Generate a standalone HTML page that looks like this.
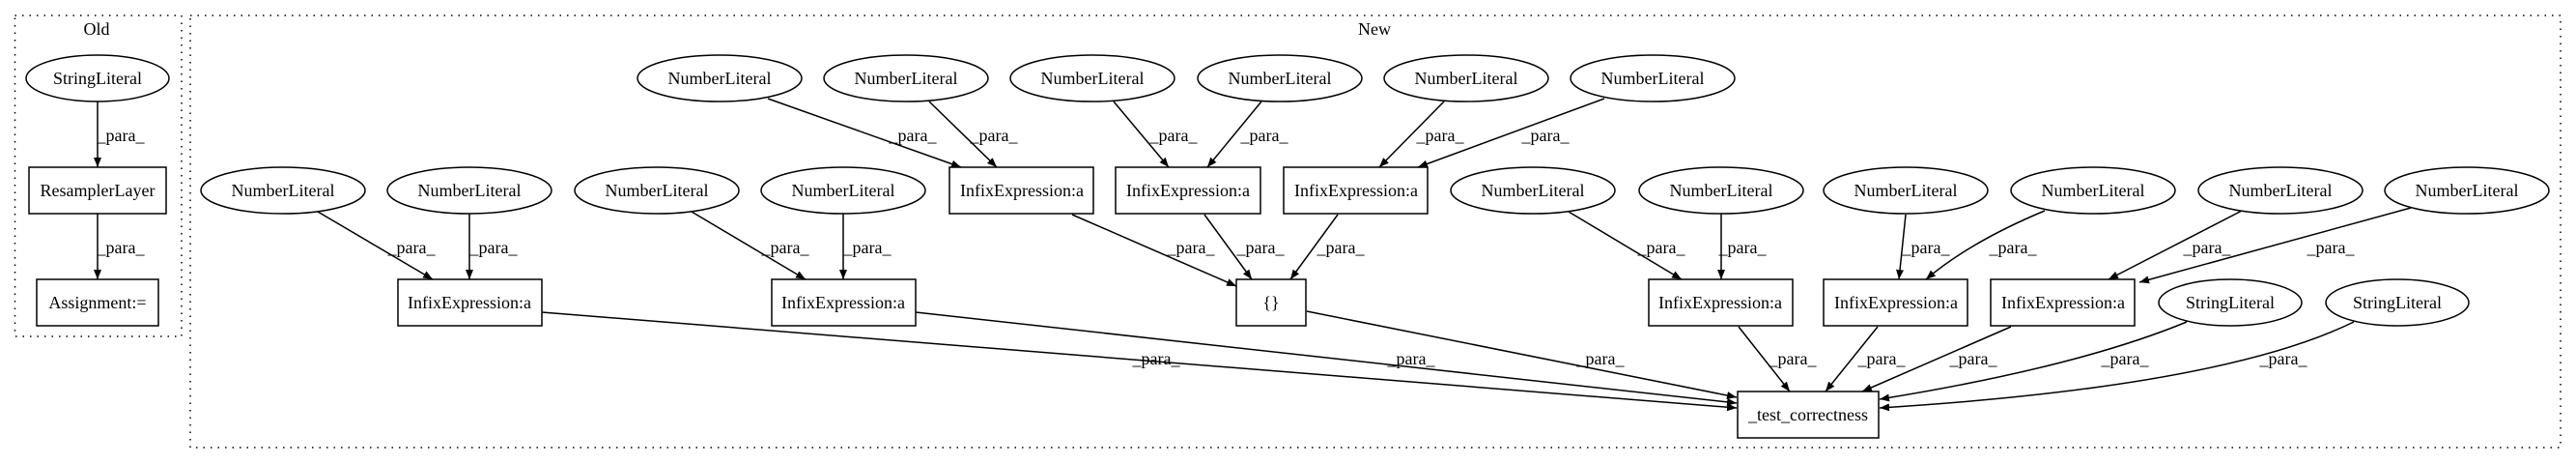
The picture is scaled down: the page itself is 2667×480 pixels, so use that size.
<!DOCTYPE html>
<html><head><meta charset="utf-8"><style>
html,body{margin:0;padding:0;background:#fff;}
svg{display:block;}
text{font-family:"Liberation Serif",serif;font-size:18px;fill:#000;}
</style></head><body>
<svg width="2667" height="480" viewBox="0 0 2667 480" xmlns="http://www.w3.org/2000/svg">
<defs><marker id="a" markerWidth="10" markerHeight="8" refX="10" refY="4" orient="auto" markerUnits="userSpaceOnUse"><path d="M0,0 L10,4 L0,8 z" fill="#000"/></marker></defs>
<g fill="none" stroke="#000" stroke-width="1.5" stroke-dasharray="1.5,6">
<rect x="15.5" y="16" width="172.5" height="332"/>
<rect x="197" y="16" width="2454" height="447"/>
</g>
<g text-anchor="middle">
<text x="100" y="36">Old</text>
<text x="1423" y="36">New</text>
</g>
<g fill="#fff" stroke="#000" stroke-width="1.5">
<ellipse cx="101" cy="81" rx="74" ry="24"/>
<rect x="30" y="173" width="142" height="48"/>
<rect x="38" y="289" width="126" height="48"/>
<ellipse cx="745" cy="81" rx="85" ry="24"/>
<ellipse cx="938" cy="81" rx="85" ry="24"/>
<ellipse cx="1131" cy="81" rx="85" ry="24"/>
<ellipse cx="1325" cy="81" rx="85" ry="24"/>
<ellipse cx="1518" cy="81" rx="85" ry="24"/>
<ellipse cx="1711" cy="81" rx="85" ry="24"/>
<ellipse cx="293" cy="197" rx="85" ry="24"/>
<ellipse cx="486" cy="197" rx="85" ry="24"/>
<ellipse cx="680" cy="197" rx="85" ry="24"/>
<ellipse cx="873" cy="197" rx="85" ry="24"/>
<rect x="983" y="173" width="149" height="48"/>
<rect x="1155" y="173" width="150" height="48"/>
<rect x="1329" y="173" width="149" height="48"/>
<ellipse cx="1587" cy="197" rx="85" ry="24"/>
<ellipse cx="1782" cy="197" rx="85" ry="24"/>
<ellipse cx="1973" cy="197" rx="85" ry="24"/>
<ellipse cx="2167" cy="197" rx="85" ry="24"/>
<ellipse cx="2361" cy="197" rx="85" ry="24"/>
<ellipse cx="2554" cy="197" rx="85" ry="24"/>
<rect x="412" y="289" width="149" height="48"/>
<rect x="799" y="289" width="149" height="48"/>
<rect x="1280" y="289" width="72" height="48"/>
<rect x="1707" y="289" width="149" height="48"/>
<rect x="1888" y="289" width="149" height="48"/>
<rect x="2061" y="289" width="149" height="48"/>
<ellipse cx="2309" cy="313" rx="74" ry="24"/>
<ellipse cx="2482" cy="313" rx="74" ry="24"/>
<rect x="1799" y="405" width="146" height="48"/>
</g>
<g text-anchor="middle">
<text x="101" y="87">StringLiteral</text>
<text x="101" y="203">ResamplerLayer</text>
<text x="101" y="319">Assignment:=</text>
<text x="745" y="87">NumberLiteral</text>
<text x="938" y="87">NumberLiteral</text>
<text x="1131" y="87">NumberLiteral</text>
<text x="1325" y="87">NumberLiteral</text>
<text x="1518" y="87">NumberLiteral</text>
<text x="1711" y="87">NumberLiteral</text>
<text x="293" y="203">NumberLiteral</text>
<text x="486" y="203">NumberLiteral</text>
<text x="680" y="203">NumberLiteral</text>
<text x="873" y="203">NumberLiteral</text>
<text x="1058" y="203">InfixExpression:a</text>
<text x="1230" y="203">InfixExpression:a</text>
<text x="1404" y="203">InfixExpression:a</text>
<text x="1587" y="203">NumberLiteral</text>
<text x="1782" y="203">NumberLiteral</text>
<text x="1973" y="203">NumberLiteral</text>
<text x="2167" y="203">NumberLiteral</text>
<text x="2361" y="203">NumberLiteral</text>
<text x="2554" y="203">NumberLiteral</text>
<text x="486" y="319">InfixExpression:a</text>
<text x="873" y="319">InfixExpression:a</text>
<text x="1316" y="319">{}</text>
<text x="1781" y="319">InfixExpression:a</text>
<text x="1963" y="319">InfixExpression:a</text>
<text x="2136" y="319">InfixExpression:a</text>
<text x="2309" y="319">StringLiteral</text>
<text x="2482" y="319">StringLiteral</text>
<text x="1872" y="435">_test_correctness</text>
</g>
<g fill="none" stroke="#000" stroke-width="1.5" marker-end="url(#a)">
<path d="M101,105 L101,173"/>
<path d="M101,221 L101,289"/>
<path d="M795,102 L995,173"/>
<path d="M962,105 L1032,173"/>
<path d="M1153,105 L1210,173"/>
<path d="M1306,105 L1250,173"/>
<path d="M1495,105 L1428,173"/>
<path d="M1661,102 L1468,173"/>
<path d="M329,219 L448,289"/>
<path d="M486,221 L486,289"/>
<path d="M716,219 L834,289"/>
<path d="M873,221 L873,289"/>
<path d="M1110,222 L1280,296"/>
<path d="M1247,222 L1296,289"/>
<path d="M1385,222 L1336,289"/>
<path d="M1624,219 L1741,289"/>
<path d="M1782,221 L1782,289"/>
<path d="M1973,222 L1966,289"/>
<path d="M2117,218 Q2040,250 1994,289"/>
<path d="M2321,218 L2183,289"/>
<path d="M2496,215 L2215,292"/>
<path d="M561,323 L1798,422"/>
<path d="M948,323 L1798,417"/>
<path d="M1353,322 L1798,411"/>
<path d="M1800,338 L1853,405"/>
<path d="M1944,338 L1890,405"/>
<path d="M2082,338 L1928,405"/>
<path d="M2264,333 Q2150,380 1946,413"/>
<path d="M2437,333 Q2300,400 1946,422"/>
</g>
<g text-anchor="middle">
<text x="125" y="146">_para_</text>
<text x="125" y="262">_para_</text>
<text x="945" y="146">_para_</text>
<text x="1029" y="146">_para_</text>
<text x="1215" y="146">_para_</text>
<text x="1309" y="146">_para_</text>
<text x="1491" y="146">_para_</text>
<text x="1600" y="146">_para_</text>
<text x="426" y="262">_para_</text>
<text x="511" y="262">_para_</text>
<text x="813" y="262">_para_</text>
<text x="898" y="262">_para_</text>
<text x="1233" y="262">_para_</text>
<text x="1305" y="262">_para_</text>
<text x="1388" y="262">_para_</text>
<text x="1720" y="262">_para_</text>
<text x="1804" y="262">_para_</text>
<text x="1994" y="262">_para_</text>
<text x="2084" y="262">_para_</text>
<text x="2285" y="262">_para_</text>
<text x="2413" y="262">_para_</text>
<text x="1197" y="377">_para_</text>
<text x="1461" y="377">_para_</text>
<text x="1657" y="377">_para_</text>
<text x="1856" y="377">_para_</text>
<text x="1948" y="377">_para_</text>
<text x="2043" y="377">_para_</text>
<text x="2200" y="377">_para_</text>
<text x="2364" y="377">_para_</text>
</g>
</svg>
</body></html>
